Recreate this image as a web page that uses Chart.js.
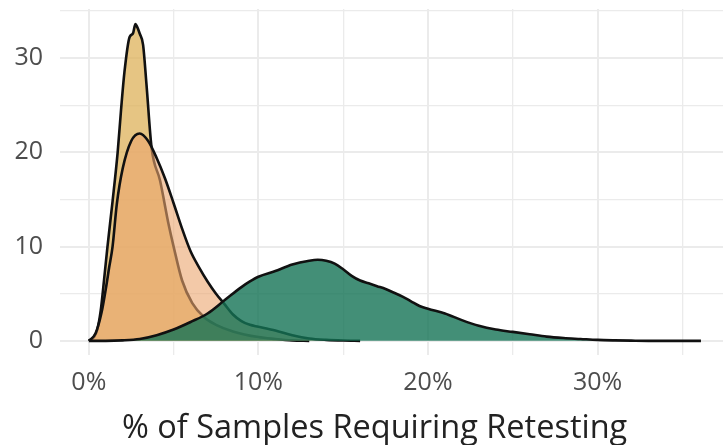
<!DOCTYPE html>
<html>
<head>
<meta charset="utf-8">
<script src="https://cdn.jsdelivr.net/npm/chart.js@4.4.1/dist/chart.umd.min.js"></script>
<style>
  body { margin: 0; background: #fff; }
</style>
</head>
<body>
<canvas id="myChart" width="723" height="445"></canvas>
<script>
// density curves (x in %, y = density)
const narrowX = [0, 0.3, 0.5, 0.7, 0.9, 1.1, 1.4, 1.7, 1.9, 2.1, 2.4, 2.6, 2.75, 2.85, 3.0, 3.2, 3.4, 3.7, 4.2, 4.7, 5.0, 5.5, 6.1, 6.8, 7.5, 8.5, 10, 11, 12, 13];
const narrowY = [0, 0.4, 1.2, 3.2, 6.5, 10, 14.8, 20, 24.5, 28.5, 32.2, 32.6, 33.6, 33.3, 32.6, 31.4, 27.2, 20.5, 17, 12.4, 10, 6.4, 4.0, 2.5, 1.7, 1.0, 0.4, 0.2, 0.05, 0];

const earlyX = [0, 0.4, 0.75, 1.0, 1.2, 1.4, 1.65, 2.0, 2.5, 3.0, 3.5, 4.0, 4.5, 5.0, 5.5, 6.0, 6.5, 7.0, 7.5, 8.0, 8.5, 9.0, 9.5, 10, 11, 12, 13, 14, 15, 16];
const earlyY = [0, 0.8, 3, 5.5, 7.8, 10, 14.5, 18.3, 21.2, 22, 21.2, 19.4, 17.2, 14.6, 11.9, 9.5, 7.8, 6.3, 5.0, 3.9, 2.8, 2.1, 1.7, 1.5, 1.1, 0.6, 0.25, 0.1, 0.03, 0];

const wideX = [0, 1, 2, 3, 4, 5, 6, 7, 8, 9, 9.5, 10, 11, 12, 13, 13.5, 14, 14.5, 15, 15.5, 16, 16.5, 17, 17.5, 18, 18.5, 19, 19.5, 20, 21, 22, 23, 24, 25, 26, 27, 28, 29, 30, 31, 32, 33, 36.1];
const wideY = [0, 0, 0.05, 0.2, 0.6, 1.2, 2.0, 2.9, 4.3, 5.7, 6.3, 6.8, 7.4, 8.1, 8.5, 8.6, 8.5, 8.2, 7.6, 6.9, 6.4, 6.1, 5.8, 5.5, 5.1, 4.7, 4.2, 3.7, 3.4, 2.9, 2.2, 1.6, 1.2, 0.95, 0.7, 0.45, 0.3, 0.2, 0.1, 0.05, 0.02, 0, 0];

const xTicks = [0, 5, 10, 15, 20, 25, 30, 35];
const yTicks = [0, 5, 10, 15, 20, 25, 30, 35];

function toPoints(xs, ys) {
    return xs.map((x, i) => ({ x: x, y: ys[i] }));
}

function curve(xs, ys, fillColor) {
    return {
        data: toPoints(xs, ys),
        showLine: true,
        fill: 'origin',
        backgroundColor: fillColor,
        borderColor: '#111',
        borderWidth: 2.6,
        pointRadius: 0,
        cubicInterpolationMode: 'monotone'
    };
}

const gridWidth = ctx => (ctx.tick && ctx.tick.value % 10 === 0 ? 2 : 1.3);

const ctx = document.getElementById('myChart').getContext('2d');
const myChart = new Chart(ctx, {
    type: 'scatter',
    data: {
        // first dataset is drawn on top
        datasets: [
            curve(wideX, wideY, 'rgba(20, 115, 85, 0.8)'),
            curve(earlyX, earlyY, 'rgba(235, 165, 110, 0.6)'),
            curve(narrowX, narrowY, 'rgba(222, 178, 90, 0.75)')
        ]
    },
    options: {
        responsive: false,
        animation: false,
        layout: { padding: { top: 9, right: 0, left: 0, bottom: 0 } },
        plugins: { legend: { display: false }, tooltip: { enabled: false } },
        scales: {
            x: {
                type: 'linear',
                min: -1.7,
                max: 37.4,
                afterBuildTicks: s => { s.ticks = xTicks.map(v => ({ value: v })); },
                afterFit: s => { s.height = 90; s.paddingLeft = 0; s.paddingRight = 0; },
                grid: { color: '#ebebeb', lineWidth: gridWidth, drawTicks: false },
                border: { display: false },
                ticks: {
                    padding: 13,
                    color: '#4d4d4d',
                    font: { family: 'Open Sans', size: 25 },
                    maxRotation: 0,
                    callback: v => (v % 10 === 0 ? v + '%' : '')
                },
                title: {
                    display: true,
                    // trailing spaces nudge the centred title left, as in the original
                    text: '% of Samples Requiring Retesting\u00a0\u00a0\u00a0\u00a0',
                    color: '#222',
                    font: { family: 'Open Sans', size: 32.5, lineHeight: 1 },
                    padding: { top: 0, bottom: 0 }
                }
            },
            y: {
                min: -1.5,
                max: 35.2,
                afterBuildTicks: s => { s.ticks = yTicks.map(v => ({ value: v })); },
                afterFit: s => { s.width = 60; s.paddingTop = 0; s.paddingBottom = 0; },
                grid: { color: '#ebebeb', lineWidth: gridWidth, drawTicks: false },
                border: { display: false },
                ticks: {
                    padding: 17,
                    color: '#4d4d4d',
                    font: { family: 'Open Sans', size: 25 },
                    callback: v => (v % 10 === 0 ? v : '')
                }
            }
        }
    }
});
</script>
</body>
</html>
